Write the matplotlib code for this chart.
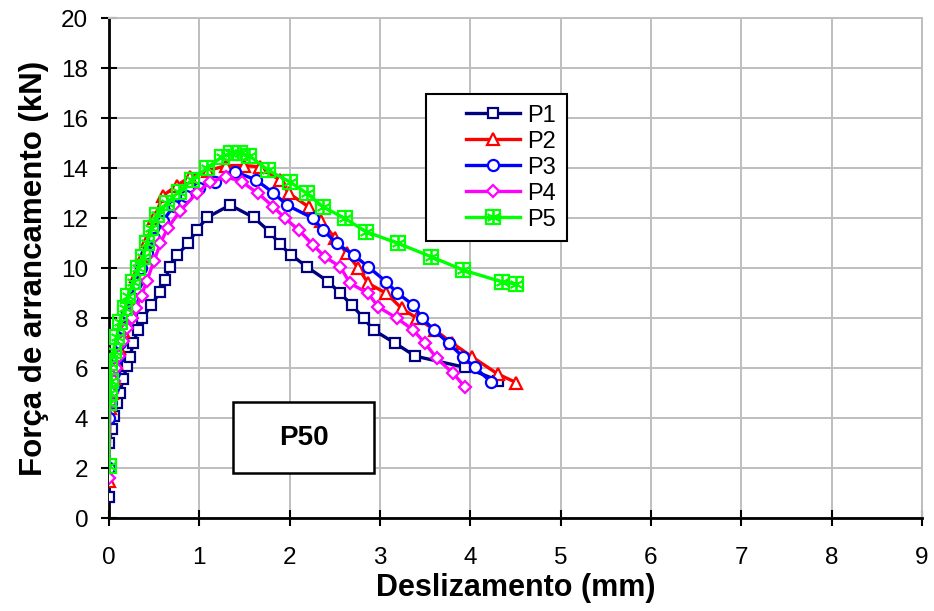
import matplotlib
matplotlib.use("Agg")
import matplotlib.pyplot as plt
from matplotlib.legend_handler import HandlerTuple, HandlerLine2D
from matplotlib.lines import Line2D
from matplotlib.patches import Rectangle

plt.rcParams['font.family'] = ['Liberation Sans', 'DejaVu Sans']

# ---- data ----
p1_x = [0, 0.0, 0.03, 0.06, 0.09, 0.12, 0.155, 0.20, 0.23, 0.27, 0.32, 0.37, 0.47, 0.565,
        0.62, 0.675, 0.75, 0.88, 0.97, 1.09, 1.34, 1.60, 1.78, 1.89, 2.02, 2.19, 2.43, 2.56,
        2.69, 2.82, 2.93, 3.17, 3.39, 3.94, 4.31]
p1_y = [0.83, 3.0, 3.55, 4.1, 4.6, 5.0, 5.55, 6.1, 6.45, 6.99, 7.52, 7.99, 8.52, 9.05,
        9.52, 10.05, 10.52, 10.99, 11.52, 12.03, 12.52, 12.03, 11.45, 10.95, 10.52, 10.05, 9.45, 8.99,
        8.52, 7.99, 7.52, 6.99, 6.48, 6.03, 5.5]

p2_x = [0, 0.01, 0.03, 0.05, 0.08, 0.11, 0.15, 0.2, 0.25, 0.3, 0.36, 0.42, 0.5, 0.6, 0.75,
        0.9, 1.1, 1.3, 1.5, 1.67, 1.89, 1.99, 2.21, 2.35, 2.5, 2.63, 2.76, 2.87, 3.07, 3.24,
        3.41, 3.61, 3.8, 4.02, 4.31, 4.51]
p2_y = [1.5, 4.4, 5.0, 5.6, 6.2, 6.8, 7.5, 8.3, 9.0, 9.7, 10.4, 11.1, 12.0, 12.9, 13.3,
        13.65, 13.9, 14.1, 14.1, 14.05, 13.52, 12.99, 12.45, 11.9, 11.2, 10.6, 10.0, 9.39, 8.99, 8.39,
        7.99, 7.52, 7.0, 6.45, 5.75, 5.42]

p3_x = [0, 0, 0.02, 0.04, 0.06, 0.09, 0.12, 0.16, 0.2, 0.25, 0.3, 0.35, 0.42, 0.5, 0.6,
        0.72, 0.85, 1.0, 1.17, 1.40, 1.63, 1.82, 1.97, 2.26, 2.37, 2.52, 2.71, 2.87, 3.07, 3.19,
        3.37, 3.47, 3.60, 3.76, 3.92, 4.05, 4.23]
p3_y = [2.0, 4.0, 4.6, 5.2, 5.8, 6.4, 7.0, 7.6, 8.2, 8.8, 9.4, 10.0, 10.6, 11.2, 11.9,
        12.5, 12.9, 13.2, 13.45, 13.85, 13.52, 13.01, 12.52, 11.99, 11.52, 10.99, 10.52, 10.05, 9.45, 9.01,
        8.52, 7.99, 7.52, 6.99, 6.45, 6.03, 5.45]

p4_x = [0, 0.01, 0.03, 0.05, 0.08, 0.11, 0.15, 0.2, 0.25, 0.3, 0.36, 0.42, 0.5, 0.57, 0.65,
        0.79, 0.97, 1.12, 1.3, 1.47, 1.65, 1.82, 1.95, 2.10, 2.26, 2.39, 2.56, 2.67, 2.87, 2.98,
        3.19, 3.37, 3.50, 3.63, 3.81, 3.94]
p4_y = [1.6, 4.6, 5.0, 5.5, 6.0, 6.5, 7.1, 7.6, 8.0, 8.4, 8.9, 9.5, 10.3, 11.0, 11.6,
        12.3, 12.99, 13.45, 13.65, 13.45, 12.99, 12.45, 11.99, 11.52, 10.92, 10.45, 10.05, 9.39, 8.99, 8.45,
        7.99, 7.52, 6.99, 6.39, 5.79, 5.25]

p5_x = [0, 0.0, 0.01, 0.02, 0.01, 0.05, 0.085, 0.12, 0.18, 0.21, 0.27, 0.32, 0.38, 0.42,
        0.47, 0.53, 0.64, 0.77, 0.92, 1.08, 1.25, 1.35, 1.45, 1.55, 1.76, 2.00, 2.19, 2.37,
        2.61, 2.85, 3.20, 3.57, 3.92, 4.35, 4.51]
p5_y = [2.1, 4.6, 5.0, 5.5, 6.2, 6.7, 7.25, 7.85, 8.4, 8.9, 9.45, 10.0, 10.45, 11.0,
        11.6, 12.12, 12.59, 13.05, 13.52, 13.99, 14.45, 14.6, 14.6, 14.5, 13.92, 13.45, 12.99, 12.45,
        11.99, 11.45, 10.99, 10.45, 9.92, 9.45, 9.36]

labels = ['P1', 'P2', 'P3', 'P4', 'P5']
x_ticks = list(range(0, 10))
y_ticks = list(range(0, 21, 2))

# ---- figure ----
fig = plt.figure(figsize=(9.34, 6.11), dpi=100)
ax = fig.add_axes([0.1167, 0.152, 0.8703, 0.8185])

lw = 2.4
h1, = ax.plot(p1_x, p1_y, color='#000080', lw=lw, marker='s', ms=7.5, mfc='white',
              mec='#000080', mew=1.6, zorder=3)
h2, = ax.plot(p2_x, p2_y, color='#FF0000', lw=lw, marker='^', ms=9, mfc='white',
              mec='#FF0000', mew=1.6, zorder=4)
h3, = ax.plot(p3_x, p3_y, color='#0000FF', lw=lw, marker='o', ms=8, mfc='white',
              mec='#0000FF', mew=1.6, zorder=5)
h4, = ax.plot(p4_x, p4_y, color='#FF00FF', lw=lw, marker='D', ms=6.5, mfc='white',
              mec='#FF00FF', mew=1.6, zorder=6)
h5, = ax.plot(p5_x, p5_y, color='#00FF00', lw=lw, marker='s', ms=10.5, mfc='none',
              mec='#00FF00', mew=1.6, zorder=7)
h5b, = ax.plot(p5_x, p5_y, ls='none', marker=(6, 2, 0), ms=9.5, mec='#00FF00', mew=1.3,
               zorder=7)

ax.set_xlim(0, 9)
ax.set_ylim(0, 20)
ax.set_xticks(x_ticks)
ax.set_yticks(y_ticks)
ax.tick_params(axis='both', direction='inout', length=12, width=1.5, labelsize=17.5,
               color='black')
ax.tick_params(axis='x', pad=15)
ax.tick_params(axis='y', pad=9)
ax.grid(True, color='#BEBEBE', lw=1.4, zorder=0)
ax.set_axisbelow(True)
for s in ['left', 'bottom']:
    ax.spines[s].set_linewidth(2)
    ax.spines[s].set_color('black')
for s in ['top', 'right']:
    ax.spines[s].set_color('#BEBEBE')
    ax.spines[s].set_linewidth(1.4)

ax.set_xlabel('Deslizamento (mm)', fontsize=22, fontweight='bold', labelpad=3)
ax.set_ylabel('Força de arrancamento (kN)', fontsize=22.5, fontweight='bold', labelpad=9)

xp = 1.25
leg = ax.legend([h1, h2, h3, h4, (h5, h5b)], labels, loc='upper left',
                bbox_to_anchor=(0.39, 0.848), borderaxespad=0, fontsize=17,
                frameon=True, fancybox=False, edgecolor='black', framealpha=1,
                borderpad=0.45, handlelength=2.3 + xp, handletextpad=0.3, labelspacing=0.17,
                handler_map={tuple: HandlerTuple(ndivide=1, xpad=xp),
                             Line2D: HandlerLine2D(xpad=xp)})
leg.get_frame().set_linewidth(1.5)

ax.add_patch(Rectangle((0.1526, 0.09), 0.1735, 0.142, transform=ax.transAxes,
                       fc='white', ec='black', lw=1.8, zorder=10))
ax.text(0.2394, 0.161, 'P50', transform=ax.transAxes, fontsize=20, fontweight='bold',
        ha='center', va='center', zorder=11)

fig.savefig('out.png', dpi=100)
